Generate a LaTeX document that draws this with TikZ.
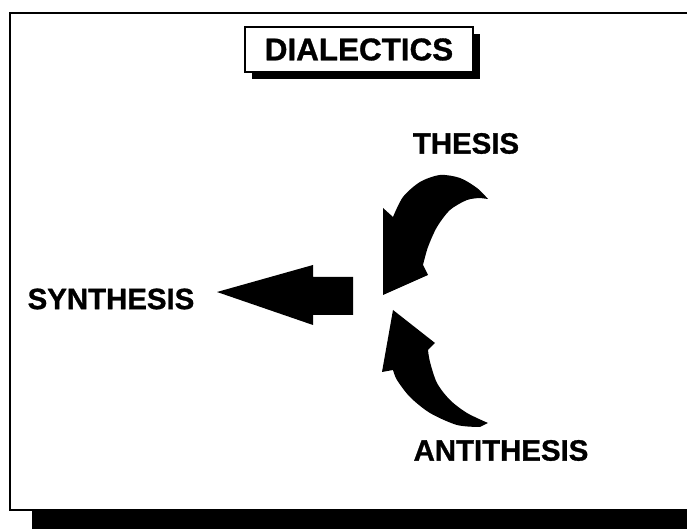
\documentclass[tikz,border=0pt]{standalone}
\usepackage{fontspec}
\setmainfont{Liberation Sans}[BoldFeatures={FakeBold=1}]
\usetikzlibrary{shadows}

\begin{document}
\begin{tikzpicture}[x=0.5pt, y=-0.5pt,
    stage/.style={font=\bfseries\fontsize{14.7}{16}\selectfont, inner sep=0pt},
    blackarrow/.style={fill=black}]
                \useasboundingbox (0,0) rectangle (687,529);
                \clip (0,0) rectangle (687,529);

                % Frame
                \draw[line width=1.3pt, fill=white, drop shadow={shadow xshift=11pt, shadow yshift=-11pt, opacity=1, fill=black}] (10,13) rectangle (720,510);

                % Title
                \node[draw, line width=1pt, fill=white, minimum width=114pt, minimum height=22.5pt,
                      font=\bfseries\fontsize{15.7}{17}\selectfont,
                      drop shadow={shadow xshift=3.5pt, shadow yshift=-3.5pt, opacity=1, fill=black}]
                      (title) at (359,49.5) {DIALECTICS};

                % Stages
                \node[stage] (thesis) at (466,143.5) {THESIS};
                \node[stage] (synthesis) at (111,299) {SYNTHESIS};
                \node[stage] (antithesis) at (501,450.5) {ANTITHESIS};

                % Thesis arrow (curving down)
                \fill[blackarrow] (383,208) -- plot[smooth] coordinates {(393,217) (403,197) (420,182) (440,175) (460,178) (477,188) (488,199)}
                    -- plot[smooth] coordinates {(480,198) (467,200) (450,210) (437,227) (428,247) (423,265)}
                    -- (428,275) -- (383,295) -- cycle;

                % Antithesis arrow (curving up)
                \fill[blackarrow] (393,310) -- (435,343) -- plot[smooth] coordinates {(428,350) (430,362) (437,383) (450,400) (467,413) (488,423)}
                    -- plot[smooth] coordinates {(480,427) (457,425) (430,413) (410,397) (397,380) (393,370)}
                    -- (382,372) -- cycle;

                % Synthesis arrow
                \fill[blackarrow] (217,292) -- (313,265) -- (313,277) -- (353,277) -- (353,315) -- (313,315) -- (313,325) -- cycle;
\end{tikzpicture}
\end{document}
